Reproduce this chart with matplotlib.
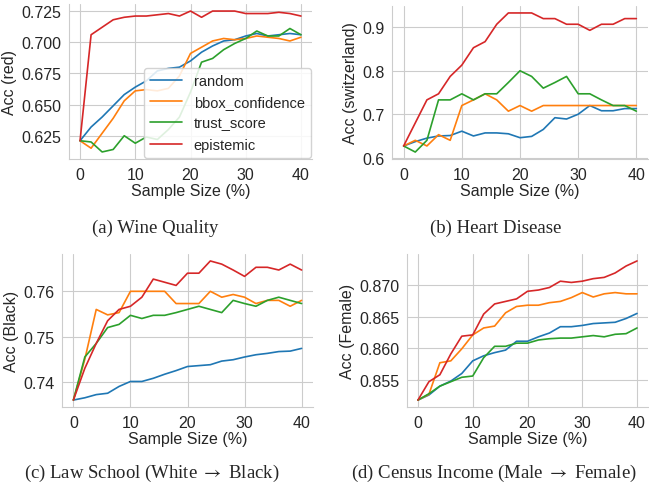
import numpy as np
import matplotlib
matplotlib.use('Agg')
import matplotlib.pyplot as plt
import seaborn as sns

sns.set_style('whitegrid')
plt.rcParams['font.family'] = ['Liberation Sans', 'DejaVu Sans']
plt.rcParams['mathtext.fontset'] = 'stix'

sample_size = list(range(0, 42, 2))
methods = ['random', 'bbox_confidence', 'trust_score', 'epistemic']

wine_random = [0.621, 0.632, 0.640, 0.649, 0.658, 0.664, 0.669, 0.677, 0.679, 0.680, 0.685,
               0.692, 0.697, 0.701, 0.702, 0.705, 0.707, 0.705, 0.706, 0.707, 0.706]
wine_bbox = [0.621, 0.615, 0.627, 0.639, 0.653, 0.661, 0.662, 0.661, 0.663, 0.673, 0.691,
             0.696, 0.701, 0.703, 0.702, 0.703, 0.705, 0.704, 0.703, 0.701, 0.704]
wine_trust = [0.621, 0.620, 0.612, 0.614, 0.625, 0.619, 0.624, 0.622, 0.630, 0.640, 0.660,
              0.684, 0.687, 0.694, 0.699, 0.703, 0.709, 0.705, 0.705, 0.711, 0.706]
wine_epistemic = [0.621, 0.706, 0.712, 0.718, 0.720, 0.721, 0.721, 0.722, 0.723, 0.721, 0.725,
                  0.720, 0.725, 0.725, 0.725, 0.723, 0.723, 0.723, 0.724, 0.723, 0.721]

heart_random = [0.627, 0.637, 0.645, 0.650, 0.651, 0.661, 0.650, 0.657, 0.657, 0.655, 0.646,
                0.649, 0.665, 0.692, 0.689, 0.700, 0.720, 0.708, 0.708, 0.713, 0.713]
heart_bbox = [0.627, 0.640, 0.627, 0.653, 0.640, 0.720, 0.733, 0.747, 0.733, 0.707, 0.720,
              0.707, 0.720, 0.720, 0.720, 0.720, 0.720, 0.720, 0.720, 0.720, 0.720]
heart_trust = [0.627, 0.613, 0.640, 0.733, 0.733, 0.747, 0.733, 0.747, 0.747, 0.773, 0.800,
               0.787, 0.760, 0.773, 0.787, 0.747, 0.747, 0.733, 0.720, 0.720, 0.707]
heart_epistemic = [0.627, 0.680, 0.733, 0.747, 0.787, 0.813, 0.853, 0.867, 0.907, 0.933, 0.933,
                   0.933, 0.920, 0.920, 0.907, 0.907, 0.893, 0.907, 0.907, 0.920, 0.920]

law_random = [0.7360, 0.7365, 0.7372, 0.7375, 0.7390, 0.7401, 0.7401, 0.7408, 0.7417, 0.7425, 0.7434,
              0.7436, 0.7438, 0.7446, 0.7449, 0.7455, 0.7460, 0.7463, 0.7467, 0.7468, 0.7474]
law_bbox = [0.7360, 0.7450, 0.7560, 0.7548, 0.7553, 0.7600, 0.7600, 0.7600, 0.7600, 0.7573, 0.7573,
            0.7573, 0.7600, 0.7587, 0.7593, 0.7587, 0.7573, 0.7580, 0.7580, 0.7567, 0.7580]
law_trust = [0.7360, 0.7455, 0.7485, 0.7520, 0.7527, 0.7547, 0.7540, 0.7547, 0.7547, 0.7553, 0.7560,
             0.7567, 0.7560, 0.7553, 0.7580, 0.7573, 0.7567, 0.7580, 0.7587, 0.7580, 0.7573]
law_epistemic = [0.7360, 0.7430, 0.7485, 0.7535, 0.7560, 0.7567, 0.7587, 0.7627, 0.7620, 0.7613, 0.7640,
                 0.7640, 0.7667, 0.7660, 0.7647, 0.7633, 0.7653, 0.7653, 0.7647, 0.7660, 0.7647]

census_random = [0.8518, 0.8526, 0.8540, 0.8548, 0.8560, 0.8580, 0.8588, 0.8593, 0.8597, 0.8611, 0.8611,
                 0.8618, 0.8624, 0.8634, 0.8634, 0.8636, 0.8639, 0.8640, 0.8641, 0.8647, 0.8655]
census_bbox = [0.8518, 0.8527, 0.8577, 0.8580, 0.8599, 0.8621, 0.8632, 0.8635, 0.8656, 0.8666, 0.8668,
               0.8668, 0.8672, 0.8674, 0.8680, 0.8688, 0.8681, 0.8686, 0.8688, 0.8686, 0.8686]
census_trust = [0.8518, 0.8528, 0.8540, 0.8547, 0.8554, 0.8556, 0.8585, 0.8603, 0.8603, 0.8608, 0.8608,
                0.8613, 0.8615, 0.8616, 0.8616, 0.8618, 0.8620, 0.8618, 0.8622, 0.8623, 0.8632]
census_epistemic = [0.8518, 0.8547, 0.8558, 0.8591, 0.8619, 0.8621, 0.8654, 0.8670, 0.8674, 0.8678, 0.8690,
                    0.8692, 0.8696, 0.8706, 0.8704, 0.8706, 0.8710, 0.8712, 0.8719, 0.8730, 0.8738]

panels = [
    ([wine_random, wine_bbox, wine_trust, wine_epistemic], 'Acc (red)',
     np.arange(0.625, 0.726, 0.025), '{:.3f}', '(a) Wine Quality'),
    ([heart_random, heart_bbox, heart_trust, heart_epistemic], 'Acc (switzerland)',
     np.arange(0.6, 0.91, 0.1), '{:.1f}', '(b) Heart Disease'),
    ([law_random, law_bbox, law_trust, law_epistemic], 'Acc (Black)',
     np.arange(0.74, 0.761, 0.01), '{:.2f}', '(c) Law School (White $\\rightarrow$ Black)'),
    ([census_random, census_bbox, census_trust, census_epistemic], 'Acc (Female)',
     np.arange(0.855, 0.8701, 0.005), '{:.3f}', '(d) Census Income (Male $\\rightarrow$ Female)'),
]

W, H = 649.0, 485.0
# axes boxes in pixels: left, top, right, bottom
boxes = [(69, 5, 312, 160), (392, 7, 648, 160), (62, 255, 313, 408), (407, 255, 648, 408)]
captions_xy = [(155, 228), (496, 228), (152, 473), (494, 473)]
colors = ['#1f77b4', '#ff7f0e', '#2ca02c', '#d62728']

fig = plt.figure(figsize=(6.49, 4.85), dpi=100)

for i, (series, ylabel, yticks, fmt, caption) in enumerate(panels):
    l, t, r, b = boxes[i]
    ax = fig.add_axes([l / W, 1 - b / H, (r - l) / W, (b - t) / H])
    for values, name, c in zip(series, methods, colors):
        ax.plot(sample_size, values, color=c, lw=1.2, label=name)
    ax.set_xticks([0, 10, 20, 30, 40])
    ax.set_yticks(yticks)
    ax.set_yticklabels([fmt.format(v) for v in yticks])
    ax.tick_params(labelsize=11.5, pad=2, colors='#262626')
    ax.set_xlabel('Sample Size (%)', fontsize=11.5, labelpad=1, color='#262626')
    ax.set_ylabel(ylabel, fontsize=11.5, labelpad=3, color='#262626')
    for s in ['top', 'right']:
        ax.spines[s].set_visible(False)
    for s in ['left', 'bottom']:
        ax.spines[s].set_color('#cccccc')
    if i == 0:
        ax.legend(loc='lower right', fontsize=10.5, frameon=True, borderaxespad=0.1,
                  handlelength=2.2, framealpha=0.85)
    cx, cy = captions_xy[i]
    fig.text(cx / W, 1 - cy / H, caption, ha='center', va='center',
             family='Liberation Serif', fontsize=13.5)

fig.savefig('out.png', dpi=100)
